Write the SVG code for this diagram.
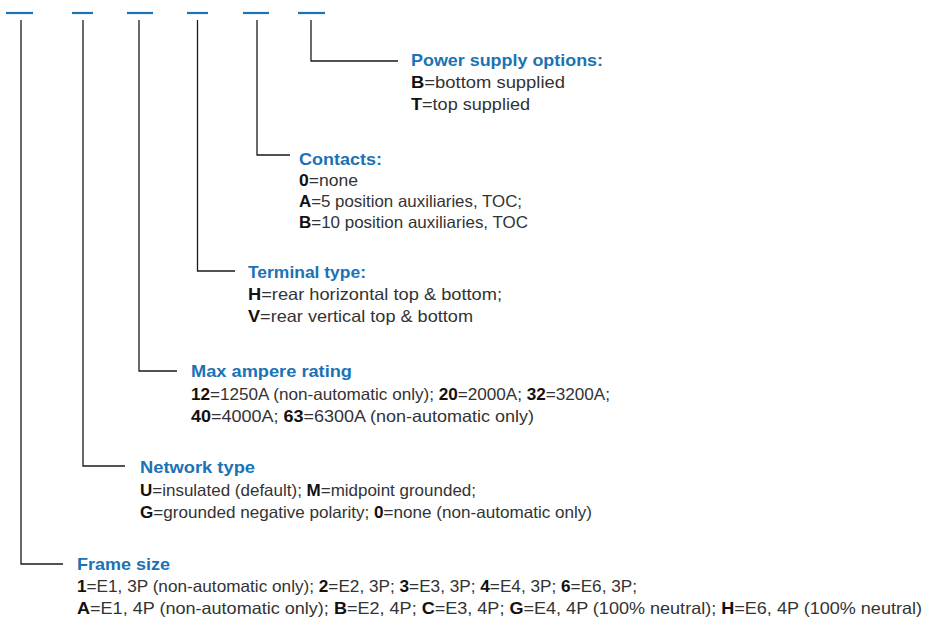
<svg xmlns="http://www.w3.org/2000/svg" width="926" height="619" viewBox="0 0 926 619">
<style>
.dash{stroke:#1b72b5;stroke-width:2.2;fill:none}
.conn{stroke:#1a1a1a;stroke-width:1.3;fill:none}
.title{font-family:"Liberation Sans",Arial,sans-serif;font-size:17px;font-weight:bold;fill:#1b72b5}
.body{font-family:"Liberation Sans",Arial,sans-serif;font-size:16.5px;fill:#333333}
.b{font-weight:bold;fill:#111}
</style>
<rect width="926" height="619" fill="#ffffff"/>
<g id="slots">
<line class="dash" x1="6" y1="13" x2="33" y2="13"/>
<line class="dash" x1="72" y1="13" x2="93" y2="13"/>
<line class="dash" x1="127" y1="13" x2="153" y2="13"/>
<line class="dash" x1="187" y1="13" x2="208" y2="13"/>
<line class="dash" x1="243" y1="13" x2="269" y2="13"/>
<line class="dash" x1="298" y1="13" x2="325" y2="13"/>
</g>
<g id="connectors">
<polyline class="conn" points="311,20 311,61 398,61"/>
<polyline class="conn" points="257,20 257,155 290,155"/>
<polyline class="conn" points="197.5,20 197.5,271 235,271"/>
<polyline class="conn" points="139,20 139,371 177,371"/>
<polyline class="conn" points="83,20 83,466 125,466"/>
<polyline class="conn" points="21,20 21,564 63,564"/>
</g>
<g id="power-supply">
<text class="title" x="411" y="66" textLength="192" lengthAdjust="spacingAndGlyphs">Power supply options:</text>
<text class="body" x="411" y="88" textLength="154" lengthAdjust="spacingAndGlyphs"><tspan class="b">B</tspan>=bottom supplied</text>
<text class="body" x="411" y="110" textLength="119" lengthAdjust="spacingAndGlyphs"><tspan class="b">T</tspan>=top supplied</text>
</g>
<g id="contacts">
<text class="title" x="299" y="165" textLength="83" lengthAdjust="spacingAndGlyphs">Contacts:</text>
<text class="body" x="299" y="186" textLength="59" lengthAdjust="spacingAndGlyphs"><tspan class="b">0</tspan>=none</text>
<text class="body" x="299" y="207" textLength="223" lengthAdjust="spacingAndGlyphs"><tspan class="b">A</tspan>=5 position auxiliaries, TOC;</text>
<text class="body" x="299" y="228" textLength="229" lengthAdjust="spacingAndGlyphs"><tspan class="b">B</tspan>=10 position auxiliaries, TOC</text>
</g>
<g id="terminal-type">
<text class="title" x="248" y="278" textLength="118" lengthAdjust="spacingAndGlyphs">Terminal type:</text>
<text class="body" x="248" y="300" textLength="254" lengthAdjust="spacingAndGlyphs"><tspan class="b">H</tspan>=rear horizontal top &amp; bottom;</text>
<text class="body" x="248" y="322" textLength="225" lengthAdjust="spacingAndGlyphs"><tspan class="b">V</tspan>=rear vertical top &amp; bottom</text>
</g>
<g id="max-ampere">
<text class="title" x="191" y="377" textLength="161" lengthAdjust="spacingAndGlyphs">Max ampere rating</text>
<text class="body" x="191" y="400" textLength="419" lengthAdjust="spacingAndGlyphs"><tspan class="b">12</tspan>=1250A (non-automatic only); <tspan class="b">20</tspan>=2000A; <tspan class="b">32</tspan>=3200A;</text>
<text class="body" x="191" y="422" textLength="343" lengthAdjust="spacingAndGlyphs"><tspan class="b">40</tspan>=4000A; <tspan class="b">63</tspan>=6300A (non-automatic only)</text>
</g>
<g id="network-type">
<text class="title" x="140" y="473" textLength="115" lengthAdjust="spacingAndGlyphs">Network type</text>
<text class="body" x="140" y="496" textLength="336" lengthAdjust="spacingAndGlyphs"><tspan class="b">U</tspan>=insulated (default); <tspan class="b">M</tspan>=midpoint grounded;</text>
<text class="body" x="140" y="518" textLength="452" lengthAdjust="spacingAndGlyphs"><tspan class="b">G</tspan>=grounded negative polarity; <tspan class="b">0</tspan>=none (non-automatic only)</text>
</g>
<g id="frame-size">
<text class="title" x="77" y="570" textLength="93" lengthAdjust="spacingAndGlyphs">Frame size</text>
<text class="body" x="77" y="592" textLength="560" lengthAdjust="spacingAndGlyphs"><tspan class="b">1</tspan>=E1, 3P (non-automatic only); <tspan class="b">2</tspan>=E2, 3P; <tspan class="b">3</tspan>=E3, 3P; <tspan class="b">4</tspan>=E4, 3P; <tspan class="b">6</tspan>=E6, 3P;</text>
<text class="body" x="77" y="614" textLength="845" lengthAdjust="spacingAndGlyphs"><tspan class="b">A</tspan>=E1, 4P (non-automatic only); <tspan class="b">B</tspan>=E2, 4P; <tspan class="b">C</tspan>=E3, 4P; <tspan class="b">G</tspan>=E4, 4P (100% neutral); <tspan class="b">H</tspan>=E6, 4P (100% neutral)</text>
</g>
</svg>
